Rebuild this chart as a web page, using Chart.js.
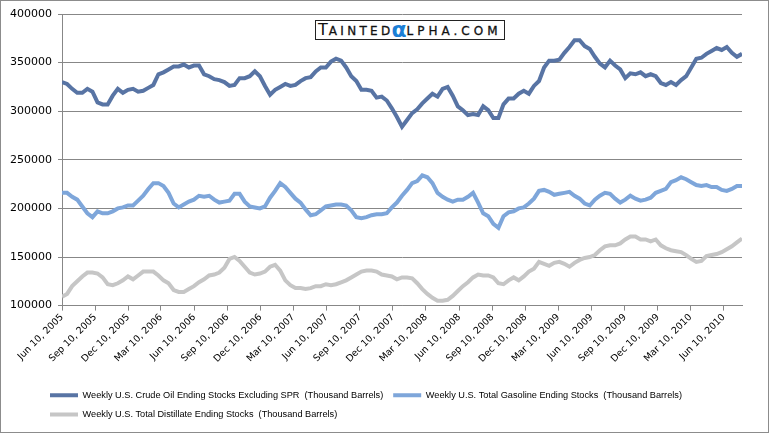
<!DOCTYPE html>
<html>
<head>
<meta charset="utf-8">
<script src="https://cdn.jsdelivr.net/npm/chart.js@4.4.1/dist/chart.umd.min.js"></script>
<style>
  html, body { margin: 0; padding: 0; background: #fff; }
  #wrap { position: relative; width: 769px; height: 433px; }
  #frame { position: absolute; left: 0; top: 0; width: 769px; height: 433px; box-sizing: border-box; border: 1px solid #8c8c8c; pointer-events: none; }
  .logo { position: absolute; left: 315px; top: 20px; width: 190px; height: 20px; box-sizing: border-box;
          border: 1px solid #222; background: #fff; font-family: 'DejaVu Sans', sans-serif; color: #111;
          white-space: nowrap; line-height: 18px; padding-left: 2px; overflow: hidden; }
  .logo .big { font-size: 16px; letter-spacing: 1px; }
  .logo .sm { font-size: 12px; letter-spacing: 3.3px; -webkit-text-stroke: 0.3px #111; }
  .logo .sm2 { letter-spacing: 4px; }
  .logo .alpha { font-size: 22px; color: #1b7fd6; font-weight: bold; vertical-align: -2px; line-height: 16px; margin-left: -2px; }
</style>
</head>
<body>
<div id="wrap">
  <canvas id="stocksChart" width="769" height="433"></canvas>
  <div class="logo"><span class="big">T</span><span class="sm">AINTED</span><span class="alpha">α</span><span class="sm sm2">LPHA.COM</span></div>
  <div id="frame"></div>
</div>
<script>
// Weekly EIA stocks, sampled every other week from Jun 10, 2005 (thousand barrels / 1000)
const startDate = [2005, 5, 10];
const stepDays = 14;

const crude = [
  330, 328, 323, 319, 319, 323, 320, 309, 307, 307, 316, 323, 319, 322, 323, 320, 321, 324, 327, 338,
  340, 343, 346, 346, 348, 345, 347, 347, 338, 336, 333, 332, 330, 326,
  327, 334, 334, 336, 341, 336, 326, 317, 322, 325, 328, 326, 327, 331, 334, 335, 341, 345, 345, 351,
  354, 352, 345, 336, 331, 322, 322, 321, 314, 315, 311, 303, 294,
  284, 291, 298, 302, 308, 313, 318, 315, 323, 325, 316, 305, 301, 296, 297, 296, 305, 301, 293, 293,
  307, 313, 313, 318, 321, 318, 326, 331, 345, 352, 352, 353, 360, 366,
  373, 373, 367, 364, 356, 349, 345, 352, 347, 343, 334, 339, 338, 340, 336, 338, 336, 329, 327, 330,
  327, 332, 336, 345, 354, 355, 359, 362, 365, 363, 366, 360, 356, 359
];

const gasoline = [
  216, 216, 212, 209, 202, 195, 191, 197, 195, 195, 197, 200, 201, 203, 203, 208, 213, 220, 226, 226,
  223, 216, 205, 201, 204, 207, 209, 213, 212, 213, 209, 206, 207, 208,
  215, 215, 207, 202, 201, 200, 202, 211, 218, 226, 222, 216, 210, 206, 199, 193, 194, 198, 202, 203,
  204, 204, 203, 198, 191, 190, 191, 193, 194, 194, 195, 201, 206,
  213, 219, 226, 228, 234, 232, 226, 216, 212, 209, 207, 209, 209, 212, 216, 206, 195, 192, 184, 180,
  192, 196, 197, 200, 201, 205, 210, 218, 219, 217, 214, 215, 216, 217,
  213, 210, 205, 203, 209, 213, 216, 215, 210, 206, 209, 213, 210, 208, 209, 211, 216, 218, 220, 227,
  229, 232, 230, 227, 224, 223, 224, 222, 222, 219, 218, 220, 223, 223
];

const distillate = [
  109, 112, 120, 125, 130, 134, 134, 133, 129, 122, 121, 123, 126, 130, 127, 131, 135, 135, 135, 131,
  126, 123, 116, 114, 114, 117, 120, 124, 127, 131, 132, 134, 139, 148,
  150, 146, 140, 134, 132, 133, 135, 140, 142, 136, 126, 121, 118, 118, 117, 118, 120, 120, 122, 121,
  122, 124, 126, 129, 132, 135, 136, 136, 135, 132, 131, 130, 127,
  129, 129, 128, 123, 117, 112, 108, 105, 105, 106, 110, 115, 120, 124, 129, 132, 131, 131, 129, 123,
  122, 126, 129, 126, 130, 135, 138, 145, 143, 141, 144, 145, 143, 140,
  144, 147, 149, 150, 152, 157, 161, 162, 162, 164, 168, 171, 171, 168, 168, 166, 168, 162, 159, 157,
  156, 155, 152, 148, 145, 146, 151, 152, 153, 155, 158, 161, 165, 169
];

const tickLabels = [
  'Jun 10, 2005', 'Sep 10, 2005', 'Dec 10, 2005', 'Mar 10, 2006', 'Jun 10, 2006', 'Sep 10, 2006',
  'Dec 10, 2006', 'Mar 10, 2007', 'Jun 10, 2007', 'Sep 10, 2007', 'Dec 10, 2007', 'Mar 10, 2008',
  'Jun 10, 2008', 'Sep 10, 2008', 'Dec 10, 2008', 'Mar 10, 2009', 'Jun 10, 2009', 'Sep 10, 2009',
  'Dec 10, 2009', 'Mar 10, 2010', 'Jun 10, 2010'
];

const seriesNames = [
  'Weekly U.S. Crude Oil Ending Stocks Excluding SPR  (Thousand Barrels)',
  'Weekly U.S. Total Gasoline Ending Stocks  (Thousand Barrels)',
  'Weekly U.S. Total Distillate Ending Stocks  (Thousand Barrels)'
];
const seriesColors = ['#5874a4', '#7ea6da', '#c6c6c6'];

// days since the first week, used as the x value
const monthIdx = { Jan: 0, Feb: 1, Mar: 2, Apr: 3, May: 4, Jun: 5, Jul: 6, Aug: 7, Sep: 8, Oct: 9, Nov: 10, Dec: 11 };
const dayMs = 86400000;
const t0 = Date.UTC(startDate[0], startDate[1], startDate[2]);
function labelToDays(label) {
  const m = label.match(/(\w+) (\d+), (\d+)/);
  return Math.round((Date.UTC(+m[3], monthIdx[m[1]], +m[2]) - t0) / dayMs);
}
const tickDays = tickLabels.map(labelToDays);

function toPoints(arr) {
  return arr.map((v, i) => ({ x: i * stepDays, y: v * 1000 }));
}

const gridGray = '#878787';

// legend rows start at x=50 like the original, independent of the axis
const legendShift = {
  id: 'legendShift',
  afterLayout(chart) {
    if (chart.legend) chart.legend.left = 40;
  }
};

const ctx = document.getElementById('stocksChart').getContext('2d');
new Chart(ctx, {
  type: 'line',
  data: {
    datasets: [crude, gasoline, distillate].map((arr, i) => ({
      label: seriesNames[i],
      data: toPoints(arr),
      borderColor: seriesColors[i],
      backgroundColor: seriesColors[i],
      borderWidth: 4,
      pointRadius: 0,
      pointHoverRadius: 0,
      pointBorderWidth: 4,
      tension: 0,
      fill: false
    }))
  },
  options: {
    responsive: false,
    animation: false,
    layout: { padding: { left: 0, right: 27, top: 14, bottom: 4 } },
    scales: {
      x: {
        type: 'linear',
        min: 0,
        max: (crude.length - 1) * stepDays,
        afterBuildTicks: (scale) => { scale.ticks = tickDays.map(v => ({ value: v })); },
        afterFit: (scale) => { scale.height = 75; scale.paddingLeft = 0; scale.paddingRight = 0; },
        grid: { drawOnChartArea: false, drawTicks: true, tickLength: 5, color: gridGray },
        border: { color: gridGray },
        ticks: {
          autoSkip: false,
          maxRotation: 45,
          minRotation: 45,
          padding: 1,
          color: '#000',
          font: { family: 'DejaVu Sans', size: 9.5 },
          callback: (v, i) => tickLabels[i]
        }
      },
      y: {
        min: 100000,
        max: 400000,
        afterFit: (scale) => { scale.width = 62; },
        grid: { color: gridGray, tickLength: 4 },
        border: { color: gridGray },
        ticks: {
          stepSize: 50000,
          padding: 6,
          color: '#000',
          font: { family: 'DejaVu Sans', size: 11 },
          callback: (v) => String(v)
        }
      }
    },
    plugins: {
      tooltip: { enabled: false },
      legend: {
        position: 'bottom',
        align: 'start',
        labels: {
          usePointStyle: true,
          pointStyle: 'line',
          pointStyleWidth: 28,
          padding: 10,
          color: '#000',
          font: { family: 'Liberation Sans', size: 9.2 }
        }
      }
    }
  },
  plugins: [legendShift]
});
</script>
</body>
</html>
